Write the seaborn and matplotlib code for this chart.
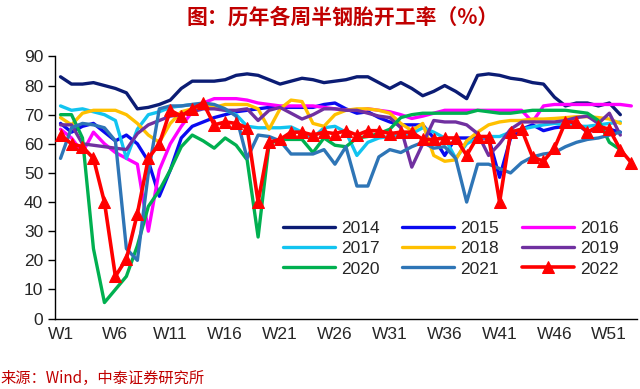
import matplotlib
matplotlib.use("Agg")
import matplotlib.pyplot as plt
import seaborn as sns
import pandas as pd

# weekly operating rate of semi-steel tyres (%)
y2014 = [83, 80.5, 80.5, 81, 80, 79, 77.5, 72, 72.5, 73.5, 75, 79, 81.5, 81.5, 81.5, 82, 83.5, 84, 83.5, 82,
         80.5, 81.5, 82.5, 82, 81, 81.5, 82, 83, 83, 81, 79, 81, 79, 76.5, 78, 80, 78, 75.5, 83.5, 84,
         83.5, 82.5, 82, 81, 80.5, 76, 73, 74, 74, 73, 74, 70]
y2015 = [67, 64, 66, 67, 64, 61, 63, 60, 54, 42, 51, 62, 66, 67.5, 69, 70, 71, 71.5, 72, 72.5,
         72.5, 72.5, 72.5, 72.5, 73.5, 74, 72, 70.5, 71, 69, 67.5, 66.5, 66.5, 66.5, 62, 56, 62, 62, 62, 62,
         48.5, 62, 65, 66.5, 64.5, 65.5, 66, 67, 64, 65.5, 65, 64]
y2016 = [65, 62, 57, 64, 60, 57, 55, 53, 30, 51, 60, 66, 71, 74, 75.5, 75.5, 75.5, 75, 74, 73.5,
         73, 73, 73, 73, 72.5, 72, 71.5, 71.5, 72, 71.5, 71, 70, 68.7, 69.5, 70.5, 71.5, 71.5, 71.5, 71.5, 71.5,
         71.5, 71.5, 71.5, 67.5, 73, 73.5, 73.5, 73.5, 73.5, 73.5, 73.5, 73.5, 73]
y2017 = [73, 71.5, 72, 71, 70, 68, 55, 65, 70, 71, 72.5, 73, 73.5, 73.5, 72.5, 71.5, 70, 66, 65.5, 65.5,
         65.5, 65.8, 64, 62, 65.5, 66, 64, 56, 60.5, 62, 62.5, 63, 63.5, 65.5, 64, 62, 55, 60, 62, 62.5,
         62.5, 64, 65, 65.8, 66.5, 67, 66.5, 66, 66, 66.5, 67, 67.5]
y2018 = [69, 66.5, 70.5, 71.5, 71.5, 71.5, 70, 67, 63, 60.5, 67, 71, 72, 73, 72.5, 73.5, 73.5, 73.5, 72, 65,
         72, 75, 74.5, 67, 66, 70, 71.5, 72, 72, 71.5, 70.5, 67, 64.5, 67, 56, 54, 54.5, 61, 64, 66.5,
         67.5, 68, 68, 68.5, 68.5, 68.7, 69, 69.3, 69.3, 69, 68.5, 67]
y2019 = [66.5, 66.5, 60, 59.5, 59, 58.5, 58, 63.5, 66.5, 68, 69.5, 70, 71, 72, 72, 71.5, 71.5, 72, 68, 71.5,
         72.5, 70.5, 68.5, 70, 72, 72, 71.5, 71.5, 70.5, 69.5, 69, 65.5, 52, 60, 68, 67.5, 67.5, 66.5, 63.5, 56,
         60, 65, 67.5, 67.5, 67.5, 67.5, 68, 69, 69.5, 67, 70.5, 63]
y2020 = [70, 70, 62, 24, 5.5, 10, 14.5, 25, 38.5, 44, 51, 59, 63, 61, 58.5, 62, 59.5, 54.5, 28, 60,
         61.5, 61.5, 61.5, 57, 62, 59.5, 59, 62, 62.5, 63.5, 65, 69, 70, 70.5, 70.5, 70.5, 70.5, 70.5, 71.5, 71,
         70.5, 70.5, 71, 71.5, 71.5, 71.5, 71.5, 71, 70.5, 68, 60.5, 58]
y2021 = [55, 65.5, 67, 66.5, 65.5, 61, 24, 20, 50, 72, 73, 73, 73.5, 74, 73.5, 72, 69.5, 55, 63, 62.5,
         61, 56.5, 56.5, 56.5, 58, 53, 59, 45.5, 45.5, 55.5, 58, 57, 59, 60.5, 58.5, 59, 55, 40, 53, 53,
         51.5, 50, 53.5, 55.5, 56.5, 57, 59, 60.5, 61.5, 62, 63, 64]
y2022 = [63, 60, 59, 55, 40, 14.5, 20.5, 36, 55, 60, 71.5, 69.5, 72, 74, 66.5, 67.5, 67, 65.5, 40, 60.5,
         61.5, 64, 64, 63, 64, 63.5, 64.5, 63, 64.5, 64.5, 63.5, 64, 64, 61.5, 61.5, 62, 62, 56, 62.5, 62.5,
         40, 64, 65, 55.5, 54, 58.5, 67.5, 67.5, 64, 66, 65, 58, 53.5]

years = ["2014", "2015", "2016", "2017", "2018", "2019", "2020", "2021", "2022"]
series = [y2014, y2015, y2016, y2017, y2018, y2019, y2020, y2021, y2022]
colors = ["#0B1C74", "#0A0AF0", "#FF00FF", "#12C4F0", "#FFC000",
          "#7030A0", "#00B050", "#2E75B6", "#FF0000"]
week_labels = ["W1", "W6", "W11", "W16", "W21", "W26", "W31", "W36", "W41", "W46", "W51"]

sns.set_style("white")
plt.rcParams["font.family"] = ["Liberation Sans", "Noto Sans CJK SC", "DejaVu Sans"]

fig = plt.figure(figsize=(6.4, 3.89), dpi=100)
ax = fig.add_axes([0.086, 0.181, 0.909, 0.674])

for year, vals, col in zip(years, series, colors):
    df = pd.DataFrame({"week": range(1, len(vals) + 1), "rate": vals})
    if year == "2022":
        sns.lineplot(data=df, x="week", y="rate", ax=ax, color=col, lw=2.6,
                     marker="^", markersize=9, markeredgecolor=col, label=year, zorder=5)
    else:
        sns.lineplot(data=df, x="week", y="rate", ax=ax, color=col, lw=2.4, label=year)

ax.set_xlim(0.5, 53.5)
ax.set_ylim(0, 90)
ax.set_yticks(range(0, 91, 10))
ax.set_xticks(range(1, 52, 5))
ax.set_xticklabels(week_labels)
ax.set_xticks([i + 0.5 for i in range(0, 54)], minor=True)
ax.tick_params(axis="x", which="major", length=0, labelsize=12.5, pad=6)
ax.tick_params(axis="x", which="minor", length=5, width=1, color="black", direction="out")
ax.tick_params(axis="y", length=5, width=1, color="black", direction="out", labelsize=12.5, left=True)
ax.set_xlabel("")
ax.set_ylabel("")
for s in ["top", "right"]:
    ax.spines[s].set_visible(False)
for s in ["left", "bottom"]:
    ax.spines[s].set_color("black")
    ax.spines[s].set_linewidth(1)

# legend laid out row by row (matplotlib fills columns first)
handles, labels = ax.get_legend_handles_labels()
order = [0, 3, 6, 1, 4, 7, 2, 5, 8]
ax.legend([handles[i] for i in order], [labels[i] for i in order],
          loc="upper left", bbox_to_anchor=(0.38, 0.40), ncol=3, frameon=False,
          fontsize=12.5, handlelength=3.0, handletextpad=0.35, columnspacing=1.3,
          labelspacing=0.3, borderaxespad=0)

fig.text(0.536, 0.956, "图：历年各周半钢胎开工率（%）", ha="center", va="center",
         fontsize=15, color="#C00000", fontweight="bold",
         family=["Noto Sans CJK SC", "DejaVu Sans"])
fig.text(0.0, 0.028, "来源：Wind，中泰证券研究所", ha="left", va="center",
         fontsize=11, color="#C00000", family=["Noto Sans CJK SC", "DejaVu Sans"])

fig.savefig("out.png", dpi=100)
plt.close(fig)
